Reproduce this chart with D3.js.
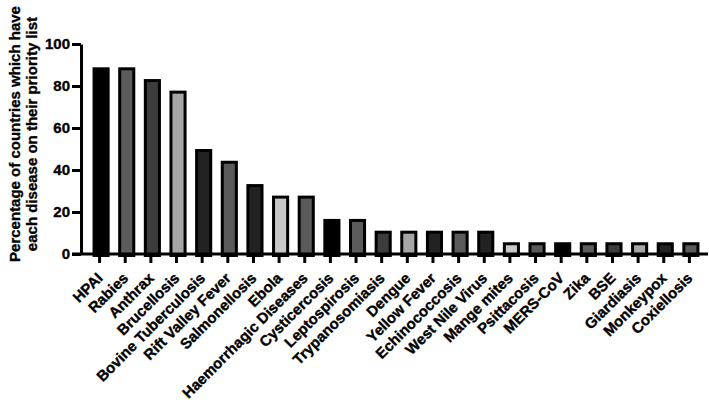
<!DOCTYPE html>
<html><head><meta charset="utf-8">
<script src="https://cdn.jsdelivr.net/npm/d3@7"></script>
<style>
html,body{margin:0;padding:0;background:#fff;}
svg text{font-family:"Liberation Sans",Arial,sans-serif !important;font-weight:700 !important;fill:#000;stroke:#000;stroke-width:0.35px;}
</style></head>
<body><svg id="c" width="709" height="405"></svg>
<script>
const categories = ["HPAI","Rabies","Anthrax","Brucellosis","Bovine Tuberculosis","Rift Valley Fever","Salmonellosis","Ebola","Haemorrhagic Diseases","Cysticercosis","Leptospirosis","Trypanosomiasis","Dengue","Yellow Fever","Echinococcosis","West Nile Virus","Mange mites","Psittacosis","MERS-CoV","Zika","BSE","Giardiasis","Monkeypox","Coxiellosis"];
const values = [88.9,88.9,83.3,77.8,50,44.4,33.3,27.8,27.8,16.7,16.7,11.1,11.1,11.1,11.1,11.1,5.6,5.6,5.6,5.6,5.6,5.6,5.6,5.6];
const fillCycle = ["#000000","#5c5c5c","#3c3c3c","#a6a6a6","#222222","#5a5a5a","#222222","#c8c8c8","#5a5a5a"];
const yTicks = [0,20,40,60,80,100];
const yTitle = ["Percentage of countries which have","each disease on their priority list"];

const svg = d3.select("#c");
const x = d3.scaleBand().domain(categories).range([81,708]).paddingInner(0.45).paddingOuter(0.45);
const y = d3.scaleLinear().domain([0,100]).range([254,44]);

// bars
svg.append("g").selectAll("rect").data(categories).join("rect")
  .attr("x", d=>x(d)+1.5)
  .attr("width", x.bandwidth())
  .attr("y", (d,i)=>y(values[i])+1.5)
  .attr("height", (d,i)=>y(0)-y(values[i]))
  .attr("fill", (d,i)=>fillCycle[i%fillCycle.length])
  .attr("stroke","#000").attr("stroke-width",3);

// y axis
const ya = svg.append("g").attr("transform","translate(81,0)")
  .call(d3.axisLeft(y).tickValues(yTicks).tickSize(9).tickSizeOuter(0).tickPadding(2));
ya.attr("font-family",null).attr("font-size",null);
ya.selectAll("path,line").attr("stroke","#000").attr("stroke-width",3);
ya.selectAll("text").style("font-size","15px");

// x axis
const xa = svg.append("g").attr("transform","translate(0,254)")
  .call(d3.axisBottom(x).tickSize(9).tickSizeOuter(0));
xa.attr("font-family",null).attr("font-size",null);
xa.select("path").attr("stroke","#000").attr("stroke-width",3).attr("d","M72,0H708");
xa.selectAll("line").attr("stroke","#000").attr("stroke-width",3);
xa.selectAll("text")
  .style("font-size","15px")
  .attr("text-anchor","end")
  .attr("dy",null).attr("y",null)
  .attr("transform","translate(4,25) rotate(-45)");

// y title
const t = svg.append("text").attr("transform","translate(20,134) rotate(-90)").attr("text-anchor","middle").style("font-size","15px");
t.append("tspan").attr("x",0).attr("dy",0).text(yTitle[0]);
t.append("tspan").attr("x",0).attr("dy","1.15em").text(yTitle[1]);
</script></body></html>
